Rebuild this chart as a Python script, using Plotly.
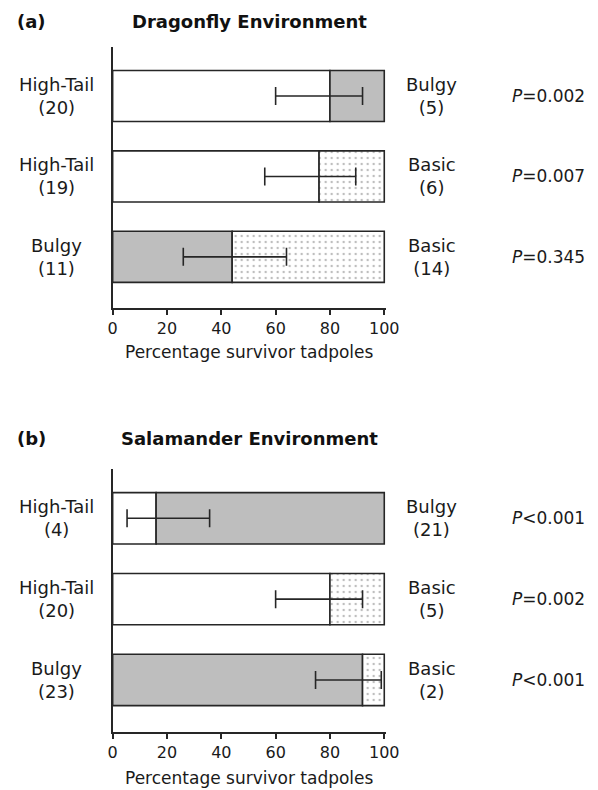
import plotly.graph_objects as go

# ---------------- data ----------------
rows = [2, 1, 0]  # top to bottom

a_left = ["High-Tail", "High-Tail", "Bulgy"]
a_left_n = [20, 19, 11]
a_right = ["Bulgy", "Basic", "Basic"]
a_right_n = [5, 6, 14]
a_pct = [80, 76, 44]
a_lo = [60, 56, 26]
a_hi = [92, 89.5, 64]
a_p = ["=0.002", "=0.007", "=0.345"]

b_left = ["High-Tail", "High-Tail", "Bulgy"]
b_left_n = [4, 20, 23]
b_right = ["Bulgy", "Basic", "Basic"]
b_right_n = [21, 5, 2]
b_pct = [16, 80, 92]
b_lo = [5.3, 60, 74.7]
b_hi = [35.7, 92, 98.9]
b_p = ["<0.001", "=0.002", "<0.001"]

x_ticks = [0, 20, 40, 60, 80, 100]
x_title = "Percentage survivor tadpoles"
titles = ["Dragonfly Environment", "Salamander Environment"]
panel_tags = ["(a)", "(b)"]

# ---------------- style ----------------
W, H = 598, 790
FONT = "DejaVu Sans"
TXT = "#1a1a1a"
OUT = "#262626"
GREY = "#bebebe"
LBL = 18

def morph_marker(name):
    line = dict(color=OUT, width=1.6)
    if name == "High-Tail":
        return dict(color="white", line=line)
    if name == "Bulgy":
        return dict(color=GREY, line=line)
    return dict(color="white", line=line,
                pattern=dict(shape=".", fgcolor="#7a7a7a", bgcolor="white",
                             size=6, solidity=0.12))

fig = go.Figure()

x_dom = [111 / W, 393 / W]
y_doms = [[1 - 308.3 / H, 1 - 47 / H], [1 - 731.7 / H, 1 - 469 / H]]
panels = [
    (a_left, a_left_n, a_right, a_right_n, a_pct, a_lo, a_hi, a_p),
    (b_left, b_left_n, b_right, b_right_n, b_pct, b_lo, b_hi, b_p),
]

annotations = []
for k, (L, Ln, R, Rn, pct, lo, hi, pv) in enumerate(panels):
    xa = "x" if k == 0 else "x2"
    ya = "y" if k == 0 else "y2"
    for i in range(3):
        fig.add_trace(go.Bar(x=[pct[i]], y=[rows[i]], orientation="h",
                             marker=morph_marker(L[i]), width=0.635,
                             xaxis=xa, yaxis=ya, showlegend=False))
        fig.add_trace(go.Bar(x=[100 - pct[i]], y=[rows[i]], orientation="h",
                             base=[pct[i]],
                             marker=morph_marker(R[i]), width=0.635,
                             xaxis=xa, yaxis=ya, showlegend=False))
    fig.add_trace(go.Scatter(
        x=pct, y=rows, mode="markers",
        marker=dict(size=1, color="rgba(0,0,0,0)"),
        error_x=dict(type="data", symmetric=False,
                     array=[h - p for h, p in zip(hi, pct)],
                     arrayminus=[p - l for p, l in zip(pct, lo)],
                     color=OUT, thickness=1.6, width=9),
        xaxis=xa, yaxis=ya, showlegend=False, hoverinfo="skip"))

    yd = y_doms[k]
    span = yd[1] - yd[0]
    yr = [-0.64, 2.61]
    def ypaper(v):
        return yd[0] + (v - yr[0]) / (yr[1] - yr[0]) * span
    for i in range(3):
        yc = ypaper(rows[i])
        annotations.append(dict(x=53 / W, y=yc, xref="paper", yref="paper",
                                text=f"{L[i]}<br>({Ln[i]})", showarrow=False,
                                align="center", xanchor="center", yanchor="middle",
                                font=dict(family=FONT, size=LBL, color=TXT)))
        annotations.append(dict(x=440 / W, y=yc, xref="paper", yref="paper",
                                text=f"{R[i]}<br>({Rn[i]})", showarrow=False,
                                align="center", xanchor="center", yanchor="middle",
                                font=dict(family=FONT, size=LBL, color=TXT)))
        annotations.append(dict(x=521 / W, y=yc, xref="paper", yref="paper",
                                text=f"<i>P</i>{pv[i]}", showarrow=False,
                                xanchor="left", yanchor="middle",
                                font=dict(family=FONT, size=17, color=TXT)))
    # titles
    ty = [21, 439][k]
    annotations.append(dict(x=10 / W, y=1 - ty / H, xref="paper", yref="paper",
                            text=f"<b>{panel_tags[k]}</b>", showarrow=False,
                            xanchor="left", yanchor="middle",
                            font=dict(family=FONT, size=18, color="#111")))
    annotations.append(dict(x=252 / W, y=1 - ty / H, xref="paper", yref="paper",
                            text=f"<b>{titles[k]}</b>", showarrow=False,
                            xanchor="center", yanchor="middle",
                            font=dict(family=FONT, size=18, color="#111")))
    # x-axis title
    xt = [352, 778][k]
    annotations.append(dict(x=252 / W, y=1 - xt / H, xref="paper", yref="paper",
                            text=x_title, showarrow=False,
                            xanchor="center", yanchor="middle",
                            font=dict(family=FONT, size=17, color=TXT)))

xaxis_common = dict(range=[0, 100.7], domain=x_dom, tickvals=x_ticks,
                    ticktext=[str(t) for t in x_ticks],
                    showline=True, linecolor=OUT, linewidth=1.6,
                    ticks="outside", ticklen=5, tickwidth=1.6, tickcolor=OUT,
                    showgrid=False, zeroline=False,
                    tickfont=dict(family=FONT, size=16, color=TXT), fixedrange=True)
yaxis_common = dict(range=[-0.64, 2.61], showline=True, linecolor=OUT, linewidth=1.6,
                    showticklabels=False, ticks="", showgrid=False, zeroline=False,
                    fixedrange=True)

fig.update_layout(
    width=W, height=H,
    margin=dict(l=0, r=0, t=0, b=0),
    paper_bgcolor="white", plot_bgcolor="white",
    barmode="overlay",
    xaxis=dict(**xaxis_common, anchor="y"),
    yaxis=dict(**yaxis_common, domain=y_doms[0], anchor="x"),
    xaxis2=dict(**xaxis_common, anchor="y2"),
    yaxis2=dict(**yaxis_common, domain=y_doms[1], anchor="x2"),
    annotations=annotations,
    font=dict(family=FONT, color=TXT),
)

fig.write_html(
    "out.html",
    config={"displayModeBar": False},
    post_script="document.body.style.margin='0';document.body.style.overflow='hidden';",
)
